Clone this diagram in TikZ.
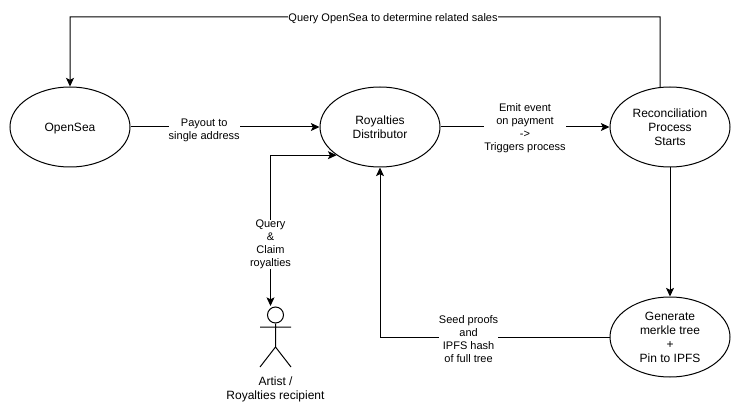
\documentclass[tikz,border=0pt]{standalone}
\usepackage{fontspec}
\setmainfont{Liberation Sans}
\usetikzlibrary{arrows.meta,shapes.geometric}

\begin{document}
\begin{tikzpicture}[x=0.75pt,y=-0.75pt,>={Stealth[length=6.5pt,width=6pt,inset=1.5pt]},line width=0.75pt,
  main node/.style={ellipse,draw,inner sep=0pt,minimum width=90pt,minimum height=60pt,align=center,text depth=-0.5pt,font=\fontsize{9}{10.5}\selectfont},
  edge label/.style={fill=white,inner sep=0pt,align=center,yshift=-1.2pt,font=\fontsize{8.25}{9.75}\selectfont}]

  \useasboundingbox (0,0) rectangle (742,413);

  \node[main node] (opensea) at (70,127) {OpenSea};
  \node[main node] (royalties) [right of=opensea,node distance=232.5pt] {Royalties\\Distributor};
  \node[main node] (recon) [right of=royalties,node distance=217.5pt] {Reconciliation\\Process\\Starts};
  \node[main node] (merkle) [below of=recon,node distance=157.5pt] {Generate\\merkle tree\\+\\Pin to IPFS};

  % stick figure
  \node[circle,draw,inner sep=0pt,minimum size=12pt] (head) at (275.5,315) {};
  \coordinate (hip) at (275.5,347);
  \coordinate (armleft) at (260,327);
  \coordinate (armright) at (291,327);
  \coordinate (footleft) at (260,367);
  \coordinate (footright) at (291,367);
  \coordinate (claim) at (270.5,306);
  \node[font=\fontsize{9}{10.5}\selectfont,align=center,inner sep=0pt] (artist) at (275.5,389) {Artist /\\Royalties recipient};
  \draw (head) -- (hip) (armleft) -- (armright) (footleft) -- (hip) -- (footright);

  \coordinate (topright) at (660,17);
  \coordinate (topleft) at (70,17);

  \path[->]
    (opensea) edge node [edge label,pos=0.39,yshift=-1.5pt] {Payout to\\single address} (royalties)
    (royalties) edge node [edge label] {Emit event\\on payment\\-\/>\\Triggers process} (recon)
    (recon) edge (merkle);

  \draw[->] (recon.104) -- (topright) -- node [edge label,pos=0.4525] {Query OpenSea to determine related sales} (topleft) -- (opensea.north);
  \draw[->] (merkle) -| node [edge label,pos=0.307] {Seed proofs\\and\\IPFS hash\\of full tree} (royalties.south);
  \draw[<->] (claim) |- node [edge label,pos=0.209] {Query\\\&\\Claim\\royalties} (royalties.213);

\end{tikzpicture}
\end{document}
